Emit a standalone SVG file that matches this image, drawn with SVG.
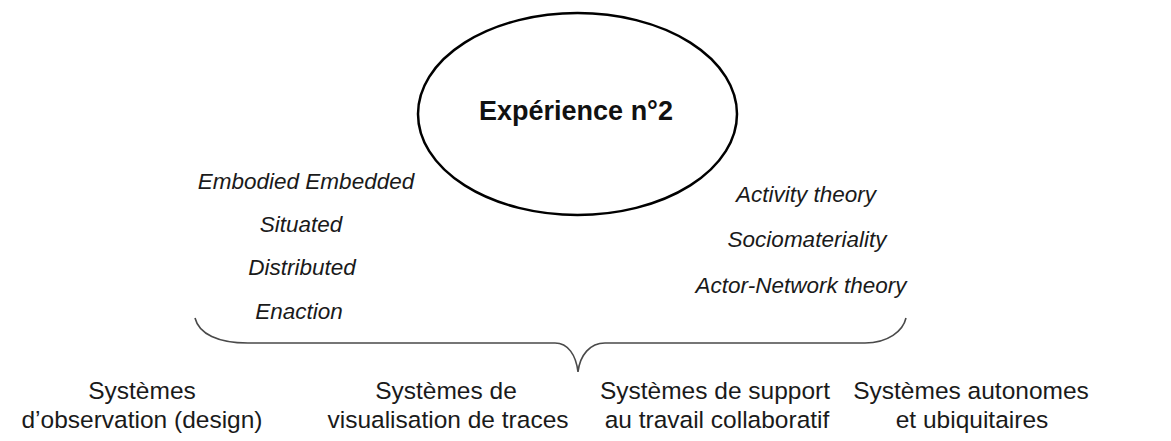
<svg xmlns="http://www.w3.org/2000/svg" width="1171" height="441" viewBox="0 0 1171 441">
  <style>
    .bg { fill: #ffffff; }
    .oval { fill: #ffffff; stroke: #000000; stroke-width: 2.5; }
    .title { font-family: "Liberation Sans", Arial, sans-serif; font-weight: bold; font-size: 27px; fill: #111111; text-anchor: middle; }
    .it { font-family: "Liberation Sans", Arial, sans-serif; font-style: italic; font-size: 22.5px; fill: #1a1a1a; text-anchor: middle; }
    .lab { font-family: "Liberation Sans", Arial, sans-serif; font-size: 24.5px; fill: #1a1a1a; text-anchor: middle; }
    .brace { fill: none; stroke: #4a4a4a; stroke-width: 1.6; }
  </style>
  <rect class="bg" x="0" y="0" width="1171" height="441"/>

  <g id="connectors">
    <path class="brace" d="M 195 318 C 199 334, 218 343, 248 343 L 555 343 C 568 343, 576 355, 578 372 C 580 355, 590 343, 605 343 L 865 343 C 888 343, 903 331, 906 318"/>
  </g>

  <g id="node-experience">
    <ellipse class="oval" cx="577.5" cy="114" rx="159.5" ry="101"/>
    <text class="title" x="576" y="120">Expérience n°2</text>
  </g>

  <g id="node-left-theories">
    <text class="it" x="306" y="189">Embodied Embedded</text>
    <text class="it" x="301" y="232">Situated</text>
    <text class="it" x="302" y="275">Distributed</text>
    <text class="it" x="299" y="319">Enaction</text>
  </g>

  <g id="node-right-theories">
    <text class="it" x="806" y="202">Activity theory</text>
    <text class="it" x="807" y="247">Sociomateriality</text>
    <text class="it" x="801" y="293">Actor-Network theory</text>
  </g>

  <g id="node-observation">
    <text class="lab" x="142" y="399">Systèmes</text>
    <text class="lab" x="142" y="428">d’observation (design)</text>
  </g>

  <g id="node-visualisation">
    <text class="lab" x="446" y="399">Systèmes de</text>
    <text class="lab" x="448" y="428">visualisation de traces</text>
  </g>

  <g id="node-collaboratif">
    <text class="lab" x="715" y="399">Systèmes de support</text>
    <text class="lab" x="717" y="428">au travail collaboratif</text>
  </g>

  <g id="node-autonomes">
    <text class="lab" x="971" y="399">Systèmes autonomes</text>
    <text class="lab" x="972" y="428">et ubiquitaires</text>
  </g>
</svg>
